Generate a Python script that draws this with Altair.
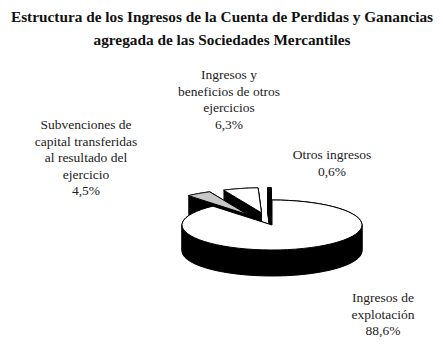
import altair as alt
import pandas as pd

# ---- data ----
categories = [
    "Ingresos de explotación",
    "Subvenciones de capital transferidas al resultado del ejercicio",
    "Ingresos y beneficios de otros ejercicios",
    "Otros ingresos",
]
values = [88.6, 4.5, 6.3, 0.6]
label_texts = [
    "Ingresos de\nexplotación\n88,6%",
    "Subvenciones de\ncapital transferidas\nal resultado del\nejercicio\n4,5%",
    "Ingresos y\nbeneficios de otros\nejercicios\n6,3%",
    "Otros ingresos\n0,6%",
]
title_lines = [
    "Estructura de los Ingresos de la Cuenta de Perdidas y Ganancias",
    "agregada de las Sociedades Mercantiles",
]

# ---- styles / layout ----
top_colors = ["#ffffff", "#c8c8c8", "#ffffff", "#000000"]
pull = [0.0, 0.5, 0.5, 0.5]
label_x = [375, 78, 221, 324]
label_y = [290, 117, 67, 147]   # first-line centres

W, H = 427, 331
CX, CY, A, B, DEPTH, N = 264, 217, 90, 25, 26, 60
SERIF = "Liberation Serif"

df = pd.DataFrame({
    "cat": categories, "value": values, "ord": list(range(len(values))),
    "color": top_colors, "pull": pull,
})

xs = alt.Scale(domain=[0, W], nice=False, zero=False)
ys = alt.Scale(domain=[H, 0], nice=False, zero=False)

base = (
    alt.Chart(df)
    .transform_window(cum="sum(value)", sort=[alt.SortField("ord")])
    .transform_calculate(
        t0="(datum.cum - datum.value) / 100 * 2 * PI",
        t1="datum.cum / 100 * 2 * PI",
    )
    .transform_calculate(
        tm="(datum.t0 + datum.t1) / 2",
        idx=f"sequence(0, {N + 3})",
    )
    .transform_flatten(["idx"])
    .transform_calculate(
        ang=f"datum.t0 + (datum.t1 - datum.t0) * clamp(datum.idx - 1, 0, {N}) / {N}",
        r=f"(datum.idx == 0 || datum.idx == {N + 2}) ? 0 : 1",
    )
    .transform_calculate(
        px=f"{CX} + {A} * (datum.pull * sin(datum.tm) + datum.r * sin(datum.ang))",
        py=f"{CY} - {B} * (datum.pull * cos(datum.tm) + datum.r * cos(datum.ang))",
    )
)

sides = (
    base.transform_calculate(dep=f"sequence(0, {DEPTH + 1})")
    .transform_flatten(["dep"])
    .transform_calculate(py2="datum.py + datum.dep", key="datum.ord * 1000 + datum.dep")
    .mark_line(fill="black", stroke="black", strokeWidth=1)
    .encode(
        x=alt.X("px:Q", scale=xs, axis=None),
        y=alt.Y("py2:Q", scale=ys, axis=None),
        detail="key:N",
        order="idx:Q",
    )
)

tops = base.mark_line(stroke="black", strokeWidth=1, strokeJoin="miter").encode(
    x=alt.X("px:Q", scale=xs, axis=None),
    y=alt.Y("py:Q", scale=ys, axis=None),
    detail="ord:N",
    order="idx:Q",
    fill=alt.Fill("color:N", scale=None),
)

lab_df = pd.DataFrame({"t": label_texts, "x": label_x, "y": label_y})
labels = alt.Chart(lab_df).mark_text(
    font=SERIF, fontSize=13.5, lineBreak="\n", lineHeight=16.5,
    align="center", baseline="middle", color="#222222",
).encode(
    x=alt.X("x:Q", scale=xs, axis=None),
    y=alt.Y("y:Q", scale=ys, axis=None),
    text="t:N",
)

title_df = pd.DataFrame({"t": ["\n".join(title_lines)], "x": [214], "y": [9]})
title = alt.Chart(title_df).mark_text(
    font=SERIF, fontSize=15.3, fontWeight="bold", lineBreak="\n",
    lineHeight=23, align="center", baseline="middle", color="#111111",
).encode(
    x=alt.X("x:Q", scale=xs, axis=None),
    y=alt.Y("y:Q", scale=ys, axis=None),
    text="t:N",
)

chart = (
    alt.layer(sides, tops, labels, title)
    .properties(width=W, height=H, padding=0, autosize=alt.AutoSizeParams(type="none"))
    .configure_view(strokeWidth=0)
)

chart.save("out.html", embed_options={"renderer": "svg", "actions": False})
